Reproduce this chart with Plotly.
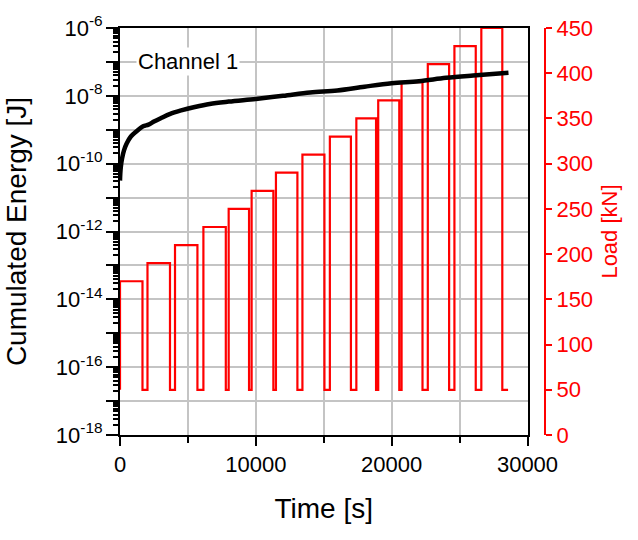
import plotly.graph_objects as go

# ---- data ----
# cumulated energy (Channel 1)
energy_time = [0, 20, 60, 150, 300, 500, 800, 1200, 1700, 2100, 2500, 3000, 3700, 4500,
               5500, 6600, 8000, 10000, 12000, 14000, 16000, 18000, 20000, 22000, 24000,
               26000, 28600]
energy_log = [-10.5, -10.3, -10.1, -9.85, -9.6, -9.4, -9.2, -9.05, -8.9, -8.85, -8.76,
              -8.66, -8.53, -8.43, -8.33, -8.24, -8.17, -8.09, -8.0, -7.9, -7.84, -7.73,
              -7.63, -7.57, -7.47, -7.40, -7.32]
energy = [10 ** v for v in energy_log]

# load steps
load_levels = [170, 190, 210, 230, 250, 270, 290, 310, 330, 350, 370, 390, 410, 430, 450]
load_down_times = [1655, 3680, 5700, 7790, 9500, 11290, 13060, 15050, 17000, 18850,
                   20560, 22270, 24230, 26190, 28145]
load_up_times = [2023, 4050, 6140, 8000, 9690, 11480, 13430, 15450, 17400, 19010,
                 20730, 22660, 24620, 26600]
load_base = 50
load_start_time = 0
load_end_time = 28570

# tick labels
x_tickvals = [0, 10000, 20000, 30000]
x_ticktext = ["0", "10000", "20000", "30000"]
y_label_exp = [-18, -16, -14, -12, -10, -8, -6]
y_label_text = [f"10<sup>{e}</sup>" for e in y_label_exp]
load_tickvals = [0, 50, 100, 150, 200, 250, 300, 350, 400, 450]

# build step polyline from the lists
lt, lv = [load_start_time, load_start_time], [load_base, load_levels[0]]
for i, lev in enumerate(load_levels):
    lt += [load_down_times[i], load_down_times[i]]
    lv += [lev, load_base]
    if i < len(load_up_times):
        nxt = load_levels[i + 1]
        lt += [load_up_times[i], load_up_times[i]]
        lv += [load_base, nxt]
lt.append(load_end_time)
lv.append(load_base)

decades = list(range(-18, -5))
major_vals = [10.0 ** e for e in decades]

FONT = "Arial, Liberation Sans, sans-serif"
GRID = "#c4c4c4"

fig = go.Figure()
fig.add_trace(go.Scatter(x=lt, y=lv, mode="lines", line=dict(color="#ff0000", width=2.2),
                         yaxis="y", showlegend=False, hoverinfo="skip"))
fig.add_trace(go.Scatter(x=energy_time, y=energy, mode="lines",
                         line=dict(color="black", width=4.5, shape="spline"),
                         yaxis="y2", showlegend=False))
fig.add_trace(go.Scatter(x=[None], y=[None], mode="lines", yaxis="y3", showlegend=False))
fig.add_trace(go.Scatter(x=[None], y=[None], mode="lines", yaxis="y4", showlegend=False))

pw = 638 - 120 - 93
fig.update_layout(
    width=638, height=540,
    margin=dict(l=120, r=93, t=25, b=105),
    paper_bgcolor="white", plot_bgcolor="white",
    font=dict(family=FONT, size=22, color="black"),
    xaxis=dict(domain=[0, 407.5 / pw], range=[0, 30000],
               tickvals=x_tickvals, ticktext=x_ticktext,
               showgrid=True, gridcolor=GRID, gridwidth=1.5,
               ticks="outside", ticklen=9, tickwidth=2, tickcolor="black",
               showline=True, linecolor="black", linewidth=2, mirror=True,
               minor=dict(dtick=5000, tick0=0, ticks="outside", ticklen=6, tickwidth=2,
                          tickcolor="black", showgrid=True, gridcolor=GRID, gridwidth=1.5),
               zeroline=False,
               title=dict(text="Time [s]", font=dict(size=28), standoff=22),
               tickfont=dict(size=22)),
    yaxis=dict(range=[0, 450], tickvals=load_tickvals, side="right", anchor="free", position=1.0,
               showgrid=False, zeroline=False,
               ticks="outside", ticklen=6, tickwidth=2, tickcolor="#ff0000",
               showline=True, linecolor="#ff0000", linewidth=2,
               tickfont=dict(size=22, color="#ff0000"),
               title=dict(text="Load [kN]", font=dict(size=22, color="#ff0000"), standoff=8)),
    yaxis2=dict(type="log", range=[-18, -6], overlaying="y", side="left", anchor="x",
                tickvals=major_vals, showticklabels=False,
                showgrid=True, gridcolor=GRID, gridwidth=1.5,
                ticks="outside", ticklen=12, tickwidth=2, tickcolor="black",
                showline=True, linecolor="black", linewidth=2, mirror=True,
                zeroline=False),
    yaxis3=dict(type="log", range=[-18, -6], overlaying="y", side="left", anchor="x",
                tickvals=[10.0 ** e for e in y_label_exp], ticktext=y_label_text,
                showgrid=False, showline=False, zeroline=False,
                ticks="outside", ticklen=12, tickcolor="rgba(0,0,0,0)",
                tickfont=dict(size=22),
                title=dict(text="Cumulated Energy [J]", font=dict(size=28), standoff=21)),
    yaxis4=dict(type="log", range=[-18, -6], overlaying="y", side="left", anchor="x",
                tickmode="linear", tick0=0, dtick="D1", showticklabels=False,
                showgrid=False, showline=False, zeroline=False,
                ticks="outside", ticklen=6, tickwidth=2, tickcolor="black"),
)
fig.add_annotation(x=5000, y=-7, xref="x", yref="y2", text="Channel 1", showarrow=False,
                   font=dict(size=22, color="black"), bgcolor="white")
fig.write_html("out.html")
